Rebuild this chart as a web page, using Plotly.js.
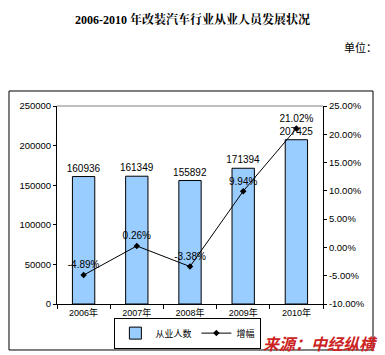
<!DOCTYPE html>
<html>
<head>
<meta charset="utf-8">
<script src="https://cdn.plot.ly/plotly-3.0.1.min.js"></script>
<style>
html,body{margin:0;padding:0;background:#fff;}
#chart{width:385px;height:355px;}
</style>
</head>
<body>
<div id="chart"></div>
<script>
var categories = ["2006年", "2007年", "2008年", "2009年", "2010年"];
var employees = [160936, 161349, 155892, 171394, 207425];
var growth = [-4.89, 0.26, -3.38, 9.94, 21.02];
var leftTicks = [0, 50000, 100000, 150000, 200000, 250000];
var rightTicks = [-10, -5, 0, 5, 10, 15, 20, 25];

var fontFam = "Liberation Sans, Arial, sans-serif";
var cjk = "Liberation Sans, Noto Sans CJK SC, sans-serif";

var traceBar = {
  type: "bar",
  name: "从业人数",
  x: categories,
  y: employees,
  width: 0.42,
  marker: {color: "#99CCFF", line: {color: "#000000", width: 1}},
  text: employees.map(String),
  textposition: "outside",
  constraintext: "none",
  textfont: {family: fontFam, size: 10, color: "#000000"},
  cliponaxis: false,
  hoverinfo: "x+y"
};

var traceLine = {
  type: "scatter",
  mode: "lines+markers+text",
  name: "增幅",
  x: categories,
  y: growth,
  yaxis: "y2",
  line: {color: "#000000", width: 1},
  marker: {symbol: "diamond", size: 5, color: "#000000"},
  text: growth.map(function(v){return v.toFixed(2) + "%";}),
  textposition: "top center",
  textfont: {family: fontFam, size: 10, color: "#000000"},
  cliponaxis: false
};

var layout = {
  width: 385,
  height: 355,
  margin: {l: 57, r: 62, t: 106, b: 51},
  paper_bgcolor: "#ffffff",
  plot_bgcolor: "#ffffff",
  showlegend: true,
  font: {family: fontFam, size: 10, color: "#000000"},
  title: {
    text: "<b>2006-2010 年改装汽车行业从业人员发展状况</b>",
    font: {family: "Liberation Serif, Noto Serif CJK SC, Noto Sans CJK SC, serif", size: 12, color: "#000000"},
    x: 0.5, xanchor: "center", y: 0.945, yanchor: "middle"
  },
  xaxis: {
    type: "category",
    showline: true, linecolor: "#000000", linewidth: 1,
    ticks: "outside", ticklen: 4, tickcolor: "#000000",
    tickson: "boundaries",
    tickfont: {family: cjk, size: 9, color: "#000000"},
    showgrid: false, zeroline: false,
    automargin: false
  },
  yaxis: {
    range: [0, 250000],
    tickvals: leftTicks,
    ticktext: leftTicks.map(String),
    showline: true, linecolor: "#000000", linewidth: 1,
    ticks: "outside", ticklen: 3, tickcolor: "#000000",
    tickfont: {family: fontFam, size: 9.5, color: "#000000"},
    showgrid: false, zeroline: false,
    automargin: false
  },
  yaxis2: {
    overlaying: "y",
    side: "right",
    range: [-10, 25],
    tickvals: rightTicks,
    ticktext: rightTicks.map(function(v){return v.toFixed(2) + "%";}),
    showline: true, linecolor: "#000000", linewidth: 1,
    ticks: "outside", ticklen: 3, tickcolor: "#000000",
    tickfont: {family: fontFam, size: 9.5, color: "#000000"},
    showgrid: false, zeroline: false,
    automargin: false
  },
  legend: {
    orientation: "h",
    xref: "container", yref: "container",
    x: 0.488, xanchor: "center",
    y: 0.018, yanchor: "bottom",
    bordercolor: "#000000", borderwidth: 1,
    bgcolor: "#ffffff",
    font: {family: cjk, size: 9, color: "#000000"},
    itemwidth: 30,
    tracegroupgap: 0
  },
  shapes: [
    {type: "rect", xref: "paper", yref: "paper", x0: -0.1805, x1: 1.188, y0: -0.2323, y1: 1.0758,
     line: {color: "#000000", width: 1}, fillcolor: "rgba(0,0,0,0)", layer: "below"},
    {type: "line", xref: "paper", yref: "paper", x0: 0, x1: 1, y0: 1, y1: 1,
     line: {color: "#808080", width: 1}}
  ],
  annotations: [
    {text: "单位：", xref: "paper", yref: "paper", x: 1.21, xanchor: "right", y: 1.30, yanchor: "middle",
     showarrow: false, font: {family: "Noto Sans CJK SC, sans-serif", size: 11, color: "#000000"}},
    {text: "<b><i>来源：中经纵横</i></b>", xref: "paper", yref: "paper", x: 0.989, xanchor: "center", y: -0.197, yanchor: "middle",
     showarrow: false, bgcolor: "rgba(255,255,255,0)",
     font: {family: "Noto Sans CJK SC, sans-serif", size: 16, color: "#CC2222"}}
  ]
};

Plotly.newPlot("chart", [traceBar, traceLine], layout, {displayModeBar: false, staticPlot: true});
</script>
</body>
</html>
